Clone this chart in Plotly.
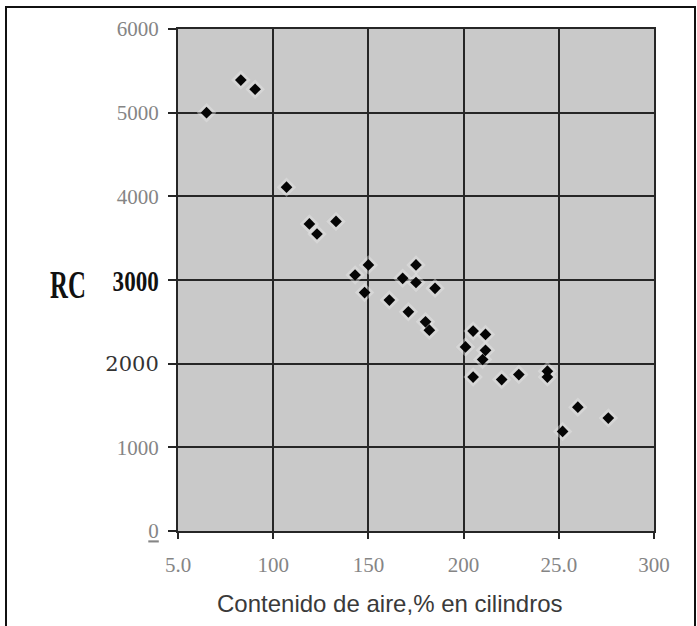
import plotly.graph_objects as go

# Data (air content vs RC)
aire = [6.5, 8.3, 9.05, 10.7, 11.9, 12.3, 13.3, 14.3, 15.0, 14.8, 16.1, 16.8,
        17.5, 17.5, 17.1, 18.5, 18.0, 18.2, 20.1, 20.5, 21.15, 21.15, 21.0,
        20.5, 22.0, 22.9, 24.4, 24.4, 25.2, 26.0, 27.6]
rc = [5000, 5390, 5280, 4110, 3670, 3550, 3700, 3060, 3180, 2850, 2760, 3020,
      3180, 2970, 2620, 2900, 2500, 2400, 2200, 2390, 2350, 2160, 2050,
      1840, 1810, 1870, 1910, 1840, 1190, 1480, 1350]

x_ticks = [5, 10, 15, 20, 25, 30]
x_ticktext = ["5.0", "100", "150", "200", "25.0", "300"]
y_ticks = [0, 1000, 2000, 3000, 4000, 5000, 6000]
y_ticktext = [
    "<u>0</u>",
    "1000",
    "<span style='font-family:DejaVu Serif;color:#333333'>2000</span>",
    "<span style='font-family:Liberation Serif;color:#111111'><b>3000</b></span>",
    "4000",
    "5000",
    "6000",
]

fig = go.Figure()
# soft light halo around points (scan artefact)
fig.add_trace(go.Scatter(
    x=aire, y=rc, mode="markers",
    marker=dict(symbol="diamond", size=15, color="rgba(235,235,235,0.4)", line=dict(width=0)),
    hoverinfo="skip", showlegend=False,
))
fig.add_trace(go.Scatter(
    x=aire, y=rc, mode="markers",
    marker=dict(symbol="diamond", size=9, color="#050505", line=dict(width=0)),
    showlegend=False,
))

L, R, T, B = 178, 43, 29, 95
W, H = 697, 626
pw, ph = W - L - R, H - T - B

def px_to_paper_x(px):
    return (px - L) / pw

def px_to_paper_y(py):
    return (H - B - py) / ph

axis_common = dict(
    showgrid=True, gridcolor="#262626", gridwidth=2,
    showline=True, mirror=True, linecolor="#262626", linewidth=2,
    zeroline=False, ticks="outside", tickcolor="#262626", tickwidth=2,
)

fig.update_layout(
    width=W, height=H,
    margin=dict(l=L, r=R, t=T, b=B, pad=0),
    paper_bgcolor="white",
    plot_bgcolor="#c9c9c9",
    xaxis=dict(range=[5, 30], tickvals=x_ticks, ticktext=x_ticktext, ticklen=6,
               ticklabelstandoff=8,
               tickfont=dict(family="Liberation Serif", size=21, color="#858585"),
               **axis_common),
    yaxis=dict(range=[0, 6000], tickvals=y_ticks, ticktext=y_ticktext, ticklen=8,
               ticklabelstandoff=5,
               tickfont=dict(family="Liberation Serif", size=21, color="#858585"),
               **axis_common),
    annotations=[
        dict(text="<b>RC</b>", xref="paper", yref="paper", name="rc_label",
             x=px_to_paper_x(68), y=px_to_paper_y(284), xanchor="center", yanchor="middle",
             showarrow=False, font=dict(family="Liberation Serif", size=40, color="#111111")),
        dict(text="Contenido de aire,% en cilindros", xref="paper", yref="paper",
             x=px_to_paper_x(390), y=px_to_paper_y(603), xanchor="center", yanchor="middle",
             showarrow=False, font=dict(family="Liberation Sans", size=24, color="#3a3a3a")),
    ],
    shapes=[
        dict(type="rect", xref="paper", yref="paper", layer="above",
             x0=px_to_paper_x(6), x1=px_to_paper_x(695),
             y0=px_to_paper_y(660), y1=px_to_paper_y(7),
             line=dict(color="#111111", width=2), fillcolor="rgba(0,0,0,0)"),
    ],
)

# Condense the "RC" label horizontally and stretch the "3000" label vertically
# (the reference uses narrow, tall typefaces for these two texts)
post_js = """
function squeeze(t, sx, sy, anchorRight) {
  var b = t.getBBox();
  var cx = anchorRight ? (b.x + b.width) : (b.x + b.width / 2), cy = b.y + b.height / 2;
  var prev = t.getAttribute('transform') || '';
  t.setAttribute('transform', prev + ' translate(' + cx + ',' + cy + ') scale(' + sx + ',' + sy + ') translate(' + (-cx) + ',' + (-cy) + ')');
}
document.querySelectorAll('.annotation-text').forEach(function(t){
  if (t.textContent.trim() === 'RC') squeeze(t, 0.62, 1.0, false);
});
document.querySelectorAll('.ytick text').forEach(function(t){
  if (t.textContent.trim() === '3000') squeeze(t, 1.1, 1.45, true);
});
"""

fig.write_html("out.html", post_script=post_js)
